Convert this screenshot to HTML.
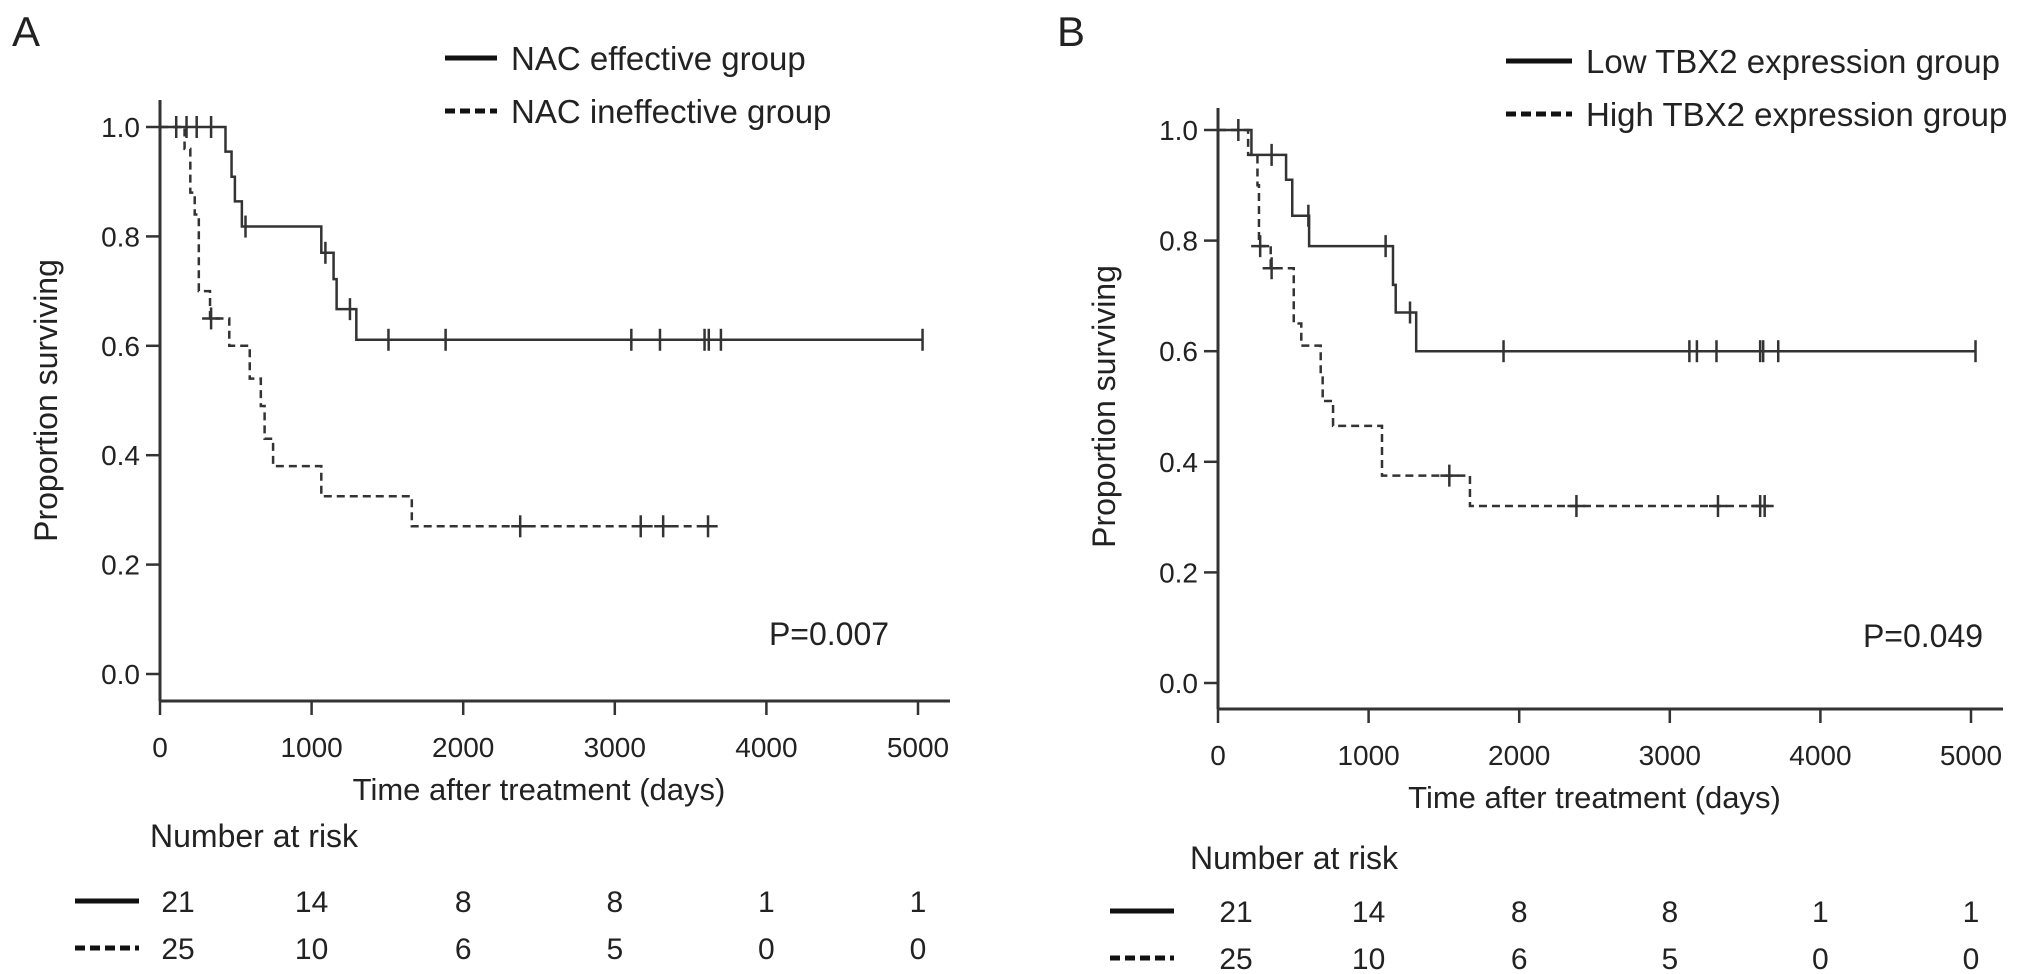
<!DOCTYPE html>
<html><head><meta charset="utf-8"><style>
html,body{margin:0;padding:0;background:#fff;}
svg{display:block;font-family:"Liberation Sans",Arial,sans-serif;fill:#222;}
</style></head><body>
<svg id="fig" width="2032" height="974" viewBox="0 0 2032 974" xmlns="http://www.w3.org/2000/svg"></svg>
<script>
// Panel A data
const aEffTimes = [0,432,472,494,540,1064,1145,1165,1295,5030];
const aEffSurv  = [1.0,0.955,0.909,0.864,0.818,0.770,0.722,0.667,0.611,0.611];
const aEffCens  = [107,175,242,337,564,1091,1253,1507,1884,3109,3298,3592,3620,3700,5030];
const aIneTimes = [0,162,200,229,256,330,457,592,665,690,746,1064,1661,3683];
const aIneSurv  = [1.0,0.96,0.88,0.84,0.70,0.65,0.60,0.54,0.49,0.43,0.38,0.325,0.27,0.27];
const aIneCens  = [337,2376,3171,3319,3615];
// Panel B data
const bLowTimes = [0,222,452,493,605,1162,1180,1316,5030];
const bLowSurv  = [1.0,0.955,0.91,0.845,0.79,0.72,0.67,0.60,0.60];
const bLowCens  = [135,356,600,1113,1275,1896,3130,3180,3310,3600,3620,3720,5030];
const bHighTimes= [0,200,262,272,350,503,553,682,695,764,1089,1673,3630];
const bHighSurv = [1.0,0.955,0.90,0.79,0.75,0.65,0.61,0.56,0.51,0.465,0.375,0.32,0.32];
const bHighCens = [280,356,1536,2380,3320,3600,3630];
const xTicks = [0,1000,2000,3000,4000,5000];
const yTicks = [0.0,0.2,0.4,0.6,0.8,1.0];
const riskTop = [21,14,8,8,1,1];
const riskBottom = [25,10,6,5,0,0];

const svg = document.getElementById('fig');
const NS = 'http://www.w3.org/2000/svg';
function mk(tag, attrs, parent){const e=document.createElementNS(NS,tag);for(const k in attrs)e.setAttribute(k,attrs[k]);(parent||svg).appendChild(e);return e;}
function txt(s,attrs,parent){const e=mk('text',attrs,parent);e.textContent=s;return e;}

function panel(cfg){
  const g = mk('g',{});
  
  
  const sx = d => cfg.x0 + d*cfg.kx;
  const sy = v => cfg.y0 - v*(cfg.y0-cfg.y1);
  const col='#333';
  const ya = mk('line',{x1:cfg.x0,y1:cfg.axTop,x2:cfg.x0,y2:cfg.axY,stroke:col,'stroke-width':3},g);
  
  
  const xa = mk('line',{x1:cfg.x0,y1:cfg.axY,x2:cfg.axRight,y2:cfg.axY,stroke:col,'stroke-width':3},g);
  
  
  xTicks.forEach(t=>{
    mk('line',{x1:sx(t),y1:cfg.axY,x2:sx(t),y2:cfg.axY+14,stroke:col,'stroke-width':2.5},g);
    const l=txt(String(t),{x:sx(t),y:cfg.axY+56,'font-size':28,'text-anchor':'middle'},g);
    
    
  });
  yTicks.forEach(t=>{
    mk('line',{x1:cfg.x0-14,y1:sy(t),x2:cfg.x0,y2:sy(t),stroke:col,'stroke-width':2.5},g);
    const l=txt(t.toFixed(1),{x:cfg.x0-20,y:sy(t)+10,'font-size':28,'text-anchor':'end'},g);
    
    
  });
  const yt=txt('Proportion surviving',{x:0,y:0,'font-size':32,'text-anchor':'middle',transform:`translate(${cfg.x0-103},${(sy(0)+sy(1))/2}) rotate(-90)`},g);
  
  
  const xt=txt('Time after treatment (days)',{x:sx(2500),y:cfg.axY+99,'font-size':31,'text-anchor':'middle'},g);
  
  
  const lab=txt(cfg.label,{x:cfg.labelX,y:46,'font-size':42},g);
  
  
  function curve(times,surv,cens,dash,nm){
    let d=`M${sx(times[0])},${sy(surv[0])}`;
    for(let i=1;i<times.length;i++){d+=` H${sx(times[i])} V${sy(surv[i])}`;}
    const p=mk('path',{d:d,fill:'none',stroke:col,'stroke-width':2.5,'stroke-dasharray':dash?'8,5':'none'},g);
    
    
    cens.forEach(c=>{
      let v=surv[0];
      for(let i=0;i<times.length;i++){if(times[i]<=c)v=surv[i];}
      const m=mk('line',{x1:sx(c),y1:sy(v)-11,x2:sx(c),y2:sy(v)+11,stroke:col,'stroke-width':2.5},g);
      
      
      if(dash){mk('line',{x1:sx(c)-9,y1:sy(v),x2:sx(c)+9,y2:sy(v),stroke:col,'stroke-width':2.5},g);}
    });
  }
  curve(cfg.t1,cfg.s1,cfg.c1,false,cfg.n1);
  curve(cfg.t2,cfg.s2,cfg.c2,true,cfg.n2);
  const l1=mk('line',{x1:cfg.legX,y1:cfg.legY,x2:cfg.legX+cfg.legW,y2:cfg.legY,stroke:'#111','stroke-width':5},g);
  
  
  const e1=txt(cfg.leg1,{x:cfg.legX+cfg.legW+14,y:cfg.legY+12,'font-size':33},g);
  
  
  const l2=mk('line',{x1:cfg.legX,y1:cfg.legY+53,x2:cfg.legX+cfg.legW,y2:cfg.legY+53,stroke:'#111','stroke-width':5,'stroke-dasharray':'10,5'},g);
  
  
  const e2=txt(cfg.leg2,{x:cfg.legX+cfg.legW+14,y:cfg.legY+65,'font-size':33},g);
  
  
  const pv=txt(cfg.p,{x:cfg.pX,y:cfg.pY,'font-size':32,'text-anchor':'middle'},g);
  
  
  const rt=txt('Number at risk',{x:cfg.riskX,y:cfg.riskY,'font-size':32},g);
  
  
  const r1y=cfg.riskY+cfg.r1, r2y=cfg.riskY+cfg.r2;
  mk('line',{x1:cfg.riskLX,y1:r1y-11,x2:cfg.riskLX+64,y2:r1y-11,stroke:'#111','stroke-width':5},g);
  mk('line',{x1:cfg.riskLX,y1:r2y-11,x2:cfg.riskLX+64,y2:r2y-11,stroke:'#111','stroke-width':5,'stroke-dasharray':'10,5'},g);
  xTicks.forEach((t,i)=>{
    const a=txt(String(riskTop[i]),{x:sx(t)+(i==0?18:0),y:r1y,'font-size':30,'text-anchor':'middle'},g);
    
    
    const b=txt(String(riskBottom[i]),{x:sx(t)+(i==0?18:0),y:r2y,'font-size':30,'text-anchor':'middle'},g);
    
    
  });
}

panel({name:'panel-a',label:'A',labelX:12,x0:160,kx:0.1516,y0:674,y1:127,axTop:100,axY:701,axRight:950,
  t1:aEffTimes,s1:aEffSurv,c1:aEffCens,n1:'nac-effective',t2:aIneTimes,s2:aIneSurv,c2:aIneCens,n2:'nac-ineffective',
  legX:445,legY:58,legW:52,leg1:'NAC effective group',leg2:'NAC ineffective group',p:'P=0.007',pX:829,pY:645,
  riskX:150,riskY:847,r1:65,r2:112,riskLX:75});
panel({name:'panel-b',label:'B',labelX:1057,x0:1218,kx:0.1506,y0:683,y1:130,axTop:108,axY:709,axRight:2003,
  t1:bLowTimes,s1:bLowSurv,c1:bLowCens,n1:'low-tbx2',t2:bHighTimes,s2:bHighSurv,c2:bHighCens,n2:'high-tbx2',
  legX:1506,legY:61,legW:66,leg1:'Low TBX2 expression group',leg2:'High TBX2 expression group',p:'P=0.049',pX:1923,pY:647,
  riskX:1190,riskY:869,r1:53,r2:100,riskLX:1110});
</script>
</body></html>
